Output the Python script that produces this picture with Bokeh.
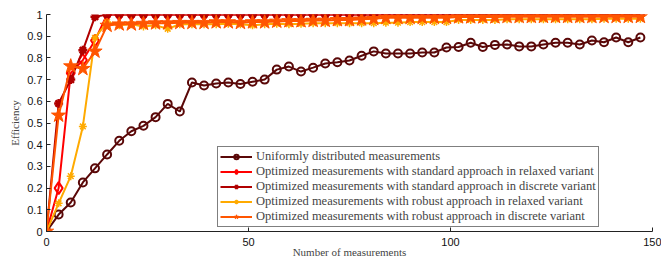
from bokeh.plotting import figure
from bokeh.models import Legend, LegendItem, FixedTicker, PrintfTickFormatter, Range1d
from bokeh.embed import file_html
from bokeh.resources import INLINE

measurements = [0, 3, 6, 9, 12, 15, 18, 21, 24, 27, 30, 33, 36, 39, 42, 45, 48, 51, 54, 57,
                60, 63, 66, 69, 72, 75, 78, 81, 84, 87, 90, 93, 96, 99, 102, 105, 108, 111, 114, 117,
                120, 123, 126, 129, 132, 135, 138, 141, 144, 147]

uniform = [0, 0.078, 0.134, 0.226, 0.291, 0.355, 0.418, 0.462, 0.487, 0.527,
           0.588, 0.553, 0.687, 0.673, 0.682, 0.687, 0.68, 0.69, 0.70, 0.746,
           0.76, 0.737, 0.755, 0.774, 0.78, 0.788, 0.81, 0.83, 0.82, 0.82,
           0.82, 0.825, 0.825, 0.848, 0.85, 0.87, 0.85, 0.86, 0.862, 0.853,
           0.853, 0.862, 0.87, 0.87, 0.862, 0.88, 0.872, 0.894, 0.872, 0.894]

std_relaxed = [0, 0.20, 0.73, 0.79, 0.88] + [1.0] * 45

std_discrete = [0, 0.59, 0.70, 0.835, 0.99] + [1.0] * 45

rob_relaxed = [0, 0.13, 0.255, 0.484, 0.892, 0.965, 0.95, 0.955, 0.945, 0.95,
               0.934, 0.955, 0.955, 0.955, 0.955, 0.957, 0.955, 0.95, 0.955, 0.957,
               0.955, 0.957, 0.96, 0.96, 0.96, 0.96, 0.96, 0.96, 0.962, 0.962,
               0.965, 0.965, 0.965, 0.965, 0.975, 0.975, 0.975, 0.975, 0.978, 0.978,
               0.978, 0.978, 0.978, 0.978, 0.978, 0.978, 0.98, 0.98, 0.98, 0.98]

rob_discrete = [0, 0.535, 0.762, 0.75, 0.83, 0.949, 0.955, 0.955, 0.958, 0.96,
                0.96, 0.962, 0.962, 0.962, 0.965, 0.965, 0.962, 0.965, 0.965, 0.968,
                0.97, 0.97, 0.972, 0.972, 0.975, 0.975, 0.978, 0.98, 0.985, 0.985,
                0.985, 0.985, 0.985, 0.985, 0.988, 0.988, 0.988, 0.988, 0.99, 0.99,
                0.99, 0.99, 0.99, 0.99, 0.99, 0.99, 0.99, 0.99, 0.99, 0.99]

labels = [
    "Uniformly distributed measurements",
    "Optimized measurements with standard approach in relaxed variant",
    "Optimized measurements with standard approach in discrete variant",
    "Optimized measurements with robust approach in relaxed variant",
    "Optimized measurements with robust approach in discrete variant",
]
x_ticks = [0, 50, 100, 150]
y_ticks = [0, 0.1, 0.2, 0.3, 0.4, 0.5, 0.6, 0.7, 0.8, 0.9, 1.0]

p = figure(width=661, height=263, output_backend="svg", toolbar_location=None,
           x_range=Range1d(0, 150), y_range=Range1d(0, 1),
           min_border_left=46, min_border_right=9, min_border_top=14, min_border_bottom=32)
p.grid.visible = False
p.outline_line_color = None
p.background_fill_color = "white"
p.border_fill_color = "white"

for ax in (p.xaxis[0], p.yaxis[0]):
    ax.major_tick_in = 4
    ax.major_tick_out = 0
    ax.minor_tick_in = 0
    ax.minor_tick_out = 0
    ax.axis_line_color = "#222222"
    ax.major_tick_line_color = "#222222"
    ax.major_label_text_font = "Liberation Sans"
    ax.major_label_text_font_size = "11px"
    ax.major_label_text_color = "#111111"
    ax.axis_label_text_font = "Liberation Serif"
    ax.axis_label_text_font_style = "normal"
    ax.axis_label_text_font_size = "11px"
    ax.major_label_standoff = 4
    ax.axis_label_standoff = 3

p.xaxis[0].major_label_standoff = 6
p.xaxis[0].axis_label_standoff = -3
p.xaxis[0].ticker = FixedTicker(ticks=x_ticks)
p.yaxis[0].ticker = FixedTicker(ticks=y_ticks)
p.yaxis[0].formatter = PrintfTickFormatter(format="%g")
p.xaxis[0].axis_label = "Number of measurements"
p.yaxis[0].axis_label = "Efficiency"

series = [
    (uniform, "#5a0808", "circle", 8, 2.0, None),
    (std_relaxed, "#ff0000", "diamond", 12, 2.0, None),
    (std_discrete, "#b00000", "asterisk", 9, 2.5, None),
    (rob_relaxed, "#ffaa00", "asterisk", 8, 1.5, None),
    (rob_discrete, "#ff5500", "star", 15, 1.0, "#ff5500"),
]

items = []
for (vals, color, marker, size, lw, fill), lab in zip(series, labels):
    lr = p.line(measurements, vals, line_color=color, line_width=2)
    sr = p.scatter(measurements, vals, marker=marker, size=size, line_color=color,
                   line_width=lw, fill_color=fill if fill else None)
    items.append(LegendItem(label=lab, renderers=[lr, sr]))

legend = Legend(items=items, location=(171, 4), orientation="vertical",
                label_text_font="Liberation Serif", label_text_font_size="12.5px",
                label_text_line_height=0.8,
                label_height=11, glyph_height=11, glyph_width=32, label_standoff=4,
                spacing=0, padding=2, margin=0,
                border_line_color="black", border_line_width=1,
                background_fill_color="white", background_fill_alpha=1.0)
p.add_layout(legend, "center")

open("out.html", "w").write(file_html(p, INLINE))
